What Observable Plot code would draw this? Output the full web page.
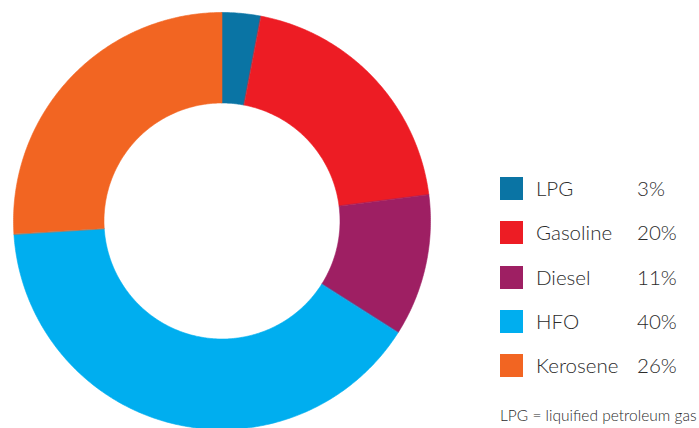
<!DOCTYPE html>
<html>
<head>
<meta charset="utf-8">
<script src="https://cdn.jsdelivr.net/npm/d3@7"></script>
<script src="https://cdn.jsdelivr.net/npm/@observablehq/plot@0.6"></script>
<style>
  html, body { margin: 0; padding: 0; background: #fff; }
  #wrap { position: relative; width: 699px; height: 428px; overflow: hidden; font-family: Lato, "Open Sans", sans-serif; color: #2b2b2b; }
  #chart { position: absolute; left: 0; top: 0; }
  #legend { position: absolute; left: 500px; top: 177px; }
  .row { position: relative; height: 44.3px; }
  .sw { position: absolute; left: 0; top: 0; width: 23px; height: 23px; }
  .lab { position: absolute; left: 36px; top: -2px; font-size: 20.5px; font-weight: 300; line-height: 26px; }
  .val { position: absolute; left: 137px; top: -2px; font-size: 20.5px; font-weight: 300; line-height: 26px; }
  #note { position: absolute; left: 500px; top: 405px; font-size: 15.5px; font-weight: 300; line-height: 20px; white-space: nowrap; }
</style>
</head>
<body>
<div id="wrap">
  <div id="chart"></div>
  <div id="legend"></div>
  <div id="note">LPG = liquified petroleum gas</div>
</div>
<script>
const categories = ["LPG", "Gasoline", "Diesel", "HFO", "Kerosene"];
const shares = [3, 20, 11, 40, 26];
const colors = ["#0a74a4", "#ed1c24", "#9e1f63", "#00aeef", "#f26522"];
const footnote = "LPG = liquified petroleum gas";

const outerR = 1;
const innerR = 0.566;

const arcs = d3.pie().sort(null).value(d => d)(shares);
const points = [];
arcs.forEach((a, i) => {
  const name = categories[i];
  const n = Math.max(8, Math.ceil((a.endAngle - a.startAngle) / 0.01));
  for (let k = 0; k <= n; k++) {
    const t = a.startAngle + (a.endAngle - a.startAngle) * k / n;
    points.push({name, x: outerR * Math.sin(t), y: outerR * Math.cos(t)});
  }
  for (let k = n; k >= 0; k--) {
    const t = a.startAngle + (a.endAngle - a.startAngle) * k / n;
    points.push({name, x: innerR * Math.sin(t), y: innerR * Math.cos(t)});
  }
});

const plot = Plot.plot({
  width: 699,
  height: 428,
  margin: 0,
  x: {domain: [-1, 1], range: [13, 430], axis: null},
  y: {domain: [-1, 1], range: [429, 12], axis: null},
  color: {domain: categories, range: colors},
  marks: [
    Plot.line(points, {x: "x", y: "y", z: "name", fill: "name", stroke: "name", strokeWidth: 0.6, curve: "linear-closed"})
  ]
});
document.getElementById("chart").appendChild(plot);

const legend = document.getElementById("legend");
categories.forEach((c, i) => {
  const row = document.createElement("div");
  row.className = "row";
  row.innerHTML = `<div class="sw" style="background:${colors[i]}"></div><div class="lab">${c}</div><div class="val">${shares[i]}%</div>`;
  legend.appendChild(row);
});
document.getElementById("note").textContent = footnote;
</script>
</body>
</html>
